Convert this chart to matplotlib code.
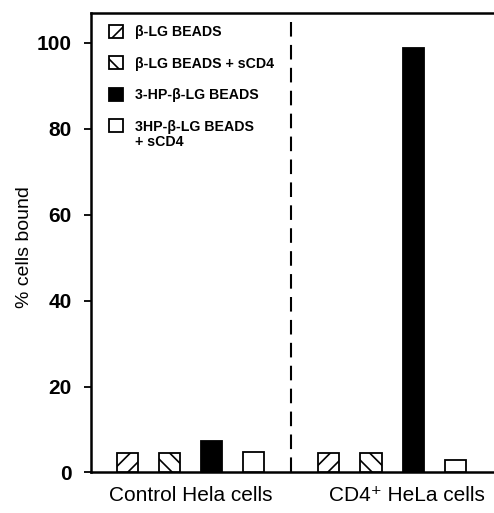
import matplotlib
matplotlib.use("Agg")
import matplotlib.pyplot as plt
from matplotlib.patches import Patch

# ---------------------------------------------------------------------------
# Data
# ---------------------------------------------------------------------------

GROUPS = ["Control Hela cells", "CD4⁺ HeLa cells"]
SERIES = ["β-LG BEADS", "β-LG BEADS + sCD4", "3-HP-β-LG BEADS", "3HP-β-LG BEADS"]
SERIES_EXTRA = "+ sCD4"
CONTROL = [4.5, 4.5, 7.3, 4.7]
CD4_CELLS = [4.5, 4.5, 98.8, 3.0]
Y_TICKS = [0, 20, 40, 60, 80, 100]

HATCHES = ["//", "\\\\", None, None]
FACES = ["white", "white", "black", "white"]

plt.rcParams["font.family"] = ["Liberation Sans", "DejaVu Sans"]
plt.rcParams["hatch.linewidth"] = 1.2

fig = plt.figure(figsize=(4.94, 5.13), dpi=100)
ax = fig.add_axes([0.184, 0.079, 0.816, 0.896])

group_start = [0.87, 5.65]
for g, vals in enumerate([CONTROL, CD4_CELLS]):
    for i, v in enumerate(vals):
        ax.bar(group_start[g] + i, v, width=0.5, color=FACES[i], edgecolor="black",
               hatch=HATCHES[i], linewidth=1.3, zorder=3)

ax.axvline(4.76, color="black", linestyle=(0, (7, 4)), linewidth=1.5)

ax.set_xlim(0, 9.57)
ax.set_ylim(0, 107)
ax.set_yticks(Y_TICKS)
ax.set_yticklabels([str(t) for t in Y_TICKS], fontsize=15, fontweight="bold")
ax.tick_params(axis="y", direction="out", length=5, width=1.3, pad=9)
ax.set_xticks([group_start[0] + 1.5, group_start[1] + 1.85])
ax.set_xticklabels(GROUPS, fontsize=15)
ax.tick_params(axis="x", length=0, pad=10)
ax.set_ylabel("% cells bound", fontsize=14)
ax.yaxis.set_label_coords(-0.144, 0.49)

for side in ["left", "bottom", "top"]:
    ax.spines[side].set_linewidth(1.8)
ax.spines["right"].set_visible(False)

# legend
handles = [Patch(facecolor=FACES[i], edgecolor="black", hatch=HATCHES[i], linewidth=1.3)
           for i in range(4)]
leg = ax.legend(handles, SERIES, loc="upper left", frameon=False,
                prop={"size": 10.2, "weight": "bold"}, handlelength=1.0, handleheight=1.0,
                labelspacing=1.22, handletextpad=0.85, borderaxespad=0.0,
                bbox_to_anchor=(0.03, 0.986))
fig.canvas.draw()
ax.annotate(SERIES_EXTRA, xy=(0, 0), xycoords=leg.get_texts()[3],
            xytext=(0, -1), textcoords="offset points", va="top", ha="left",
            fontsize=10.2, fontweight="bold")

fig.savefig("out.png", dpi=100)
